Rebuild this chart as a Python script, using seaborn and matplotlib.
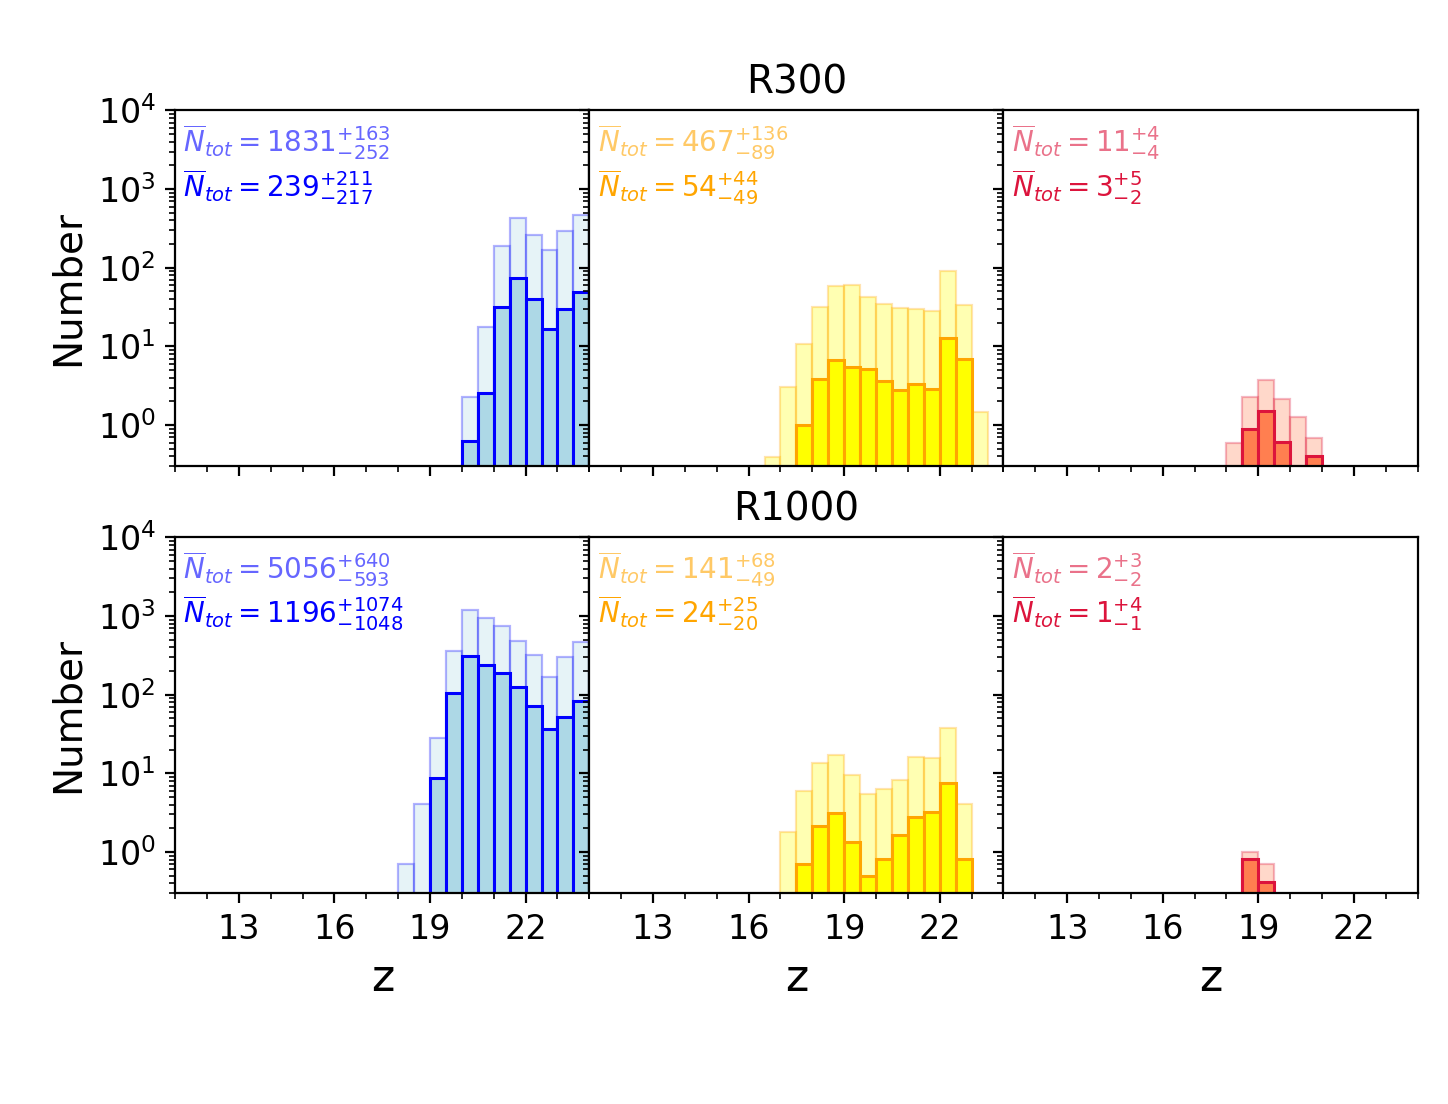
import numpy as np
import pandas as pd
import matplotlib
matplotlib.use('Agg')
import matplotlib.pyplot as plt
import seaborn as sns
from matplotlib.colors import to_rgba
from matplotlib.ticker import MultipleLocator

# Bin width of the redshift histograms
bin_w = 0.5

# R300 -- bright / intermediate / faint samples (all, selected)
r300_blue_start = 20.0
r300_blue_all = [2.3, 17.7, 188, 425, 259, 168, 289, 465]
r300_blue_sel = [0.62, 2.56, 31.5, 73, 39.7, 16.6, 29.7, 48.7]
r300_orange_start_all = 16.5
r300_orange_all = [0.39, 3.05, 10.6, 32, 58, 60, 42, 35, 31, 29.5, 27.9, 92, 34, 1.46]
r300_orange_start_sel = 17.5
r300_orange_sel = [0.99, 3.9, 6.7, 5.5, 5.1, 3.6, 2.8, 3.3, 2.9, 12.9, 6.9]
r300_red_start_all = 18.0
r300_red_all = [0.59, 2.26, 3.7, 2.13, 1.26, 0.68]
r300_red_start_sel = 18.5
r300_red_sel = [0.90, 1.49, 0.61, 0, 0.40]

# R1000
r1000_blue_start_all = 18.0
r1000_blue_all = [0.70, 4.05, 27.9, 354, 1208, 956, 757, 488, 315, 170, 297, 461]
r1000_blue_start_sel = 19.0
r1000_blue_sel = [8.6, 104, 306, 235, 190, 126, 72, 37, 52, 82]
r1000_orange_start_all = 17.0
r1000_orange_all = [1.79, 5.9, 13.4, 16.9, 9.4, 5.4, 6.3, 8.2, 16.0, 15.7, 37.3, 4.05]
r1000_orange_start_sel = 17.5
r1000_orange_sel = [0.71, 2.11, 3.1, 1.33, 0.50, 0.81, 1.64, 2.8, 3.2, 7.5, 0.81]
r1000_red_start = 18.5
r1000_red_all = [1.0, 0.70]
r1000_red_sel = [0.81, 0.41]

# Annotations: mean totals with errors
r300_labels = [
    (r'$\overline{N}_{tot} = 1831^{+163}_{-252}$', r'$\overline{N}_{tot} = 239^{+211}_{-217}$'),
    (r'$\overline{N}_{tot} = 467^{+136}_{-89}$', r'$\overline{N}_{tot} = 54^{+44}_{-49}$'),
    (r'$\overline{N}_{tot} = 11^{+4}_{-4}$', r'$\overline{N}_{tot} = 3^{+5}_{-2}$'),
]
r1000_labels = [
    (r'$\overline{N}_{tot} = 5056^{+640}_{-593}$', r'$\overline{N}_{tot} = 1196^{+1074}_{-1048}$'),
    (r'$\overline{N}_{tot} = 141^{+68}_{-49}$', r'$\overline{N}_{tot} = 24^{+25}_{-20}$'),
    (r'$\overline{N}_{tot} = 2^{+3}_{-2}$', r'$\overline{N}_{tot} = 1^{+4}_{-1}$'),
]

# fill, edge colours per column
fills = ['lightblue', 'yellow', 'coral']
edges = ['blue', 'orange', 'crimson']

plt.rcParams['font.family'] = ['DejaVu Sans']
plt.rcParams['xtick.labelsize'] = 12
plt.rcParams['ytick.labelsize'] = 12


def draw_hist(ax, start, counts, fill, edge, alpha, lw):
    n = len(counts)
    centers = start + bin_w * (np.arange(n) + 0.5)
    df = pd.DataFrame({'z': centers, 'n': counts})
    sns.histplot(data=df, x='z', weights='n', binwidth=bin_w,
                 binrange=(start, start + n * bin_w), ax=ax,
                 stat='count', element='bars',
                 facecolor=to_rgba(fill, alpha), edgecolor=to_rgba(edge, alpha),
                 linewidth=lw)


rows = [
    ('R300', [(r300_blue_start, r300_blue_all, r300_blue_start, r300_blue_sel),
              (r300_orange_start_all, r300_orange_all, r300_orange_start_sel, r300_orange_sel),
              (r300_red_start_all, r300_red_all, r300_red_start_sel, r300_red_sel)],
     r300_labels),
    ('R1000', [(r1000_blue_start_all, r1000_blue_all, r1000_blue_start_sel, r1000_blue_sel),
               (r1000_orange_start_all, r1000_orange_all, r1000_orange_start_sel, r1000_orange_sel),
               (r1000_red_start, r1000_red_all, r1000_red_start, r1000_red_sel)],
     r1000_labels),
]

fig, axes = plt.subplots(2, 3, figsize=(7.24, 5.52), dpi=200, sharex=True, sharey=True)
fig.subplots_adjust(left=0.121, right=0.979, top=0.900, bottom=0.191, wspace=0, hspace=0.2)

for i, (title, panels, labels) in enumerate(rows):
    for j, (s_all, c_all, s_sel, c_sel) in enumerate(panels):
        ax = axes[i, j]
        draw_hist(ax, s_all, c_all, fills[j], edges[j], 0.3, 0.8)
        draw_hist(ax, s_sel, c_sel, fills[j], edges[j], 1.0, 1.1)
        ax.set_yscale('log')
        ax.set_xlim(11, 24)
        ax.set_ylim(0.3, 1e4)
        ax.set_xticks([13, 16, 19, 22])
        ax.xaxis.set_minor_locator(MultipleLocator(1))

        ax.text(0.02, 0.883, labels[j][0], transform=ax.transAxes, fontsize=10,
                color=to_rgba(edges[j], 0.6), va='baseline', ha='left')
        ax.text(0.02, 0.758, labels[j][1], transform=ax.transAxes, fontsize=10,
                color=edges[j], va='baseline', ha='left')

        ax.set_ylabel('Number' if j == 0 else '', fontsize=14)
        ax.set_xlabel('z' if i == 1 else '', fontsize=16)
        if j == 1:
            ax.set_title(title, fontsize=14)

fig.savefig('out.png', dpi=200)
